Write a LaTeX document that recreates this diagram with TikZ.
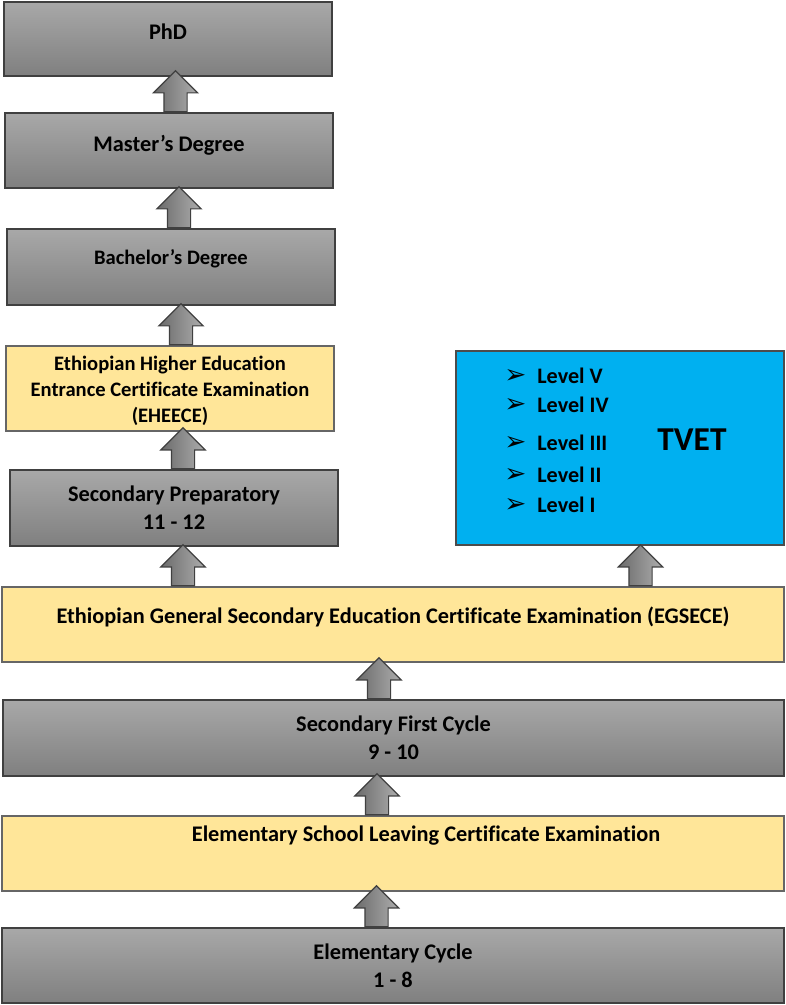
\documentclass[tikz,border=0pt]{standalone}
\usepackage{fontspec}
\setmainfont{Carlito}[Ligatures=NoCommon]
\newfontfamily\symfont{DejaVu Sans}
\usepackage{xcolor}
\usetikzlibrary{shapes.arrows}
\definecolor{examyellow}{HTML}{FFE699}
\definecolor{tvetblue}{HTML}{00B0F0}
\newcommand\lvlitem[1]{\makebox[6.6mm][l]{\symfont\fontsize{15}{15}\selectfont ➢}#1}

\begin{document}
\begin{tikzpicture}[x=0.2mm, y=-0.2mm, font=\bfseries\fontsize{12.7}{16}\selectfont,
  graybox/.style={draw=black!75, line width=0.7pt, top color=black!34, bottom color=black!50, minimum width=65.6mm, minimum height=15mm},
  examybox/.style={draw=black!60, line width=0.7pt, fill=examyellow, minimum width=65.6mm, minimum height=15mm, align=center},
  uparrow/.style={single arrow, rotate=90, anchor=tail, draw=black!75, line width=0.7pt, left color=black!58, right color=black!32, minimum height=8.2mm, inner xsep=0pt, inner ysep=2.2mm, single arrow head extend=2.1mm}]
\useasboundingbox (0,0) rectangle (785,1005);
% left column
\node[graybox, minimum height=14.8mm, label={[yshift=1.4mm]center:PhD}] (phd) at (168,39) {};
\node[graybox, label={[yshift=1mm]center:Master’s Degree}] (master) at (169,150.5) {};
\node[graybox, minimum height=15.2mm, label={[yshift=1.6mm, font=\bfseries\fontsize{11.7}{14}\selectfont]center:Bachelor’s Degree}] (bachelor) at (171,267) {};
\node[examybox, minimum height=17mm, label={[yshift=-0.4mm, align=center, font=\bfseries\fontsize{11.7}{14.8}\selectfont]center:Ethiopian Higher Education\\Entrance Certificate Examination\\(EHEECE)}] (eheece) at (170,388.5) {};
\node[graybox, minimum height=15.2mm, align=center] (prep) at (174,508) {Secondary Preparatory\\11 - 12};
% TVET
\node[draw=black!70, line width=0.7pt, fill=tvetblue, minimum width=65.6mm, minimum height=38.8mm] (tvet) at (620,448) {};
\node[font=\bfseries\fontsize{19}{19}\selectfont] (tvetlbl) at (692,440) {TVET};
\node[anchor=west, inner sep=0pt, font=\bfseries\fontsize{12.6}{12}\selectfont] (lv5) at (504,376) {\lvlitem{Level V}};
\node[anchor=west, inner sep=0pt, font=\bfseries\fontsize{12.6}{12}\selectfont] (lv4) at (504,405) {\lvlitem{Level IV}};
\node[anchor=west, inner sep=0pt, font=\bfseries\fontsize{12.6}{12}\selectfont] (lv3) at (504,443) {\lvlitem{Level III}};
\node[anchor=west, inner sep=0pt, font=\bfseries\fontsize{12.6}{12}\selectfont] (lv2) at (504,475) {\lvlitem{Level II}};
\node[anchor=west, inner sep=0pt, font=\bfseries\fontsize{12.6}{12}\selectfont] (lv1) at (504,505) {\lvlitem{Level I}};
% full width rows
\node[examybox, minimum width=156.4mm, label={[yshift=1.5mm]center:Ethiopian General Secondary Education Certificate Examination (EGSECE)}] (egsece) at (393,624.5) {};
\node[graybox, minimum width=156.2mm, minimum height=15.2mm, align=center] (first) at (393.5,738) {Secondary First Cycle\\9 - 10};
\node[examybox, minimum width=156.4mm, label={[yshift=3.5mm, xshift=6.6mm]center:Elementary School Leaving Certificate Examination}] (eslce) at (393,853.5) {};
\node[graybox, minimum width=156.4mm, align=center] (elem) at (393,965.5) {Elementary Cycle\\1 - 8};
% arrows
\node[uparrow] (a1) at (175.5,0 |- master.north) {};
\node[uparrow] (a2) at (179,0 |- bachelor.north) {};
\node[uparrow] (a3) at (181,0 |- eheece.north) {};
\node[uparrow] (a4) at (183,0 |- prep.north) {};
\node[uparrow] (a5) at (183,0 |- egsece.north) {};
\node[uparrow] (a6) at (640.5,0 |- egsece.north) {};
\node[uparrow] (a7) at (379,0 |- first.north) {};
\node[uparrow] (a8) at (377,0 |- eslce.north) {};
\node[uparrow] (a9) at (376.5,0 |- elem.north) {};
\end{tikzpicture}
\end{document}
